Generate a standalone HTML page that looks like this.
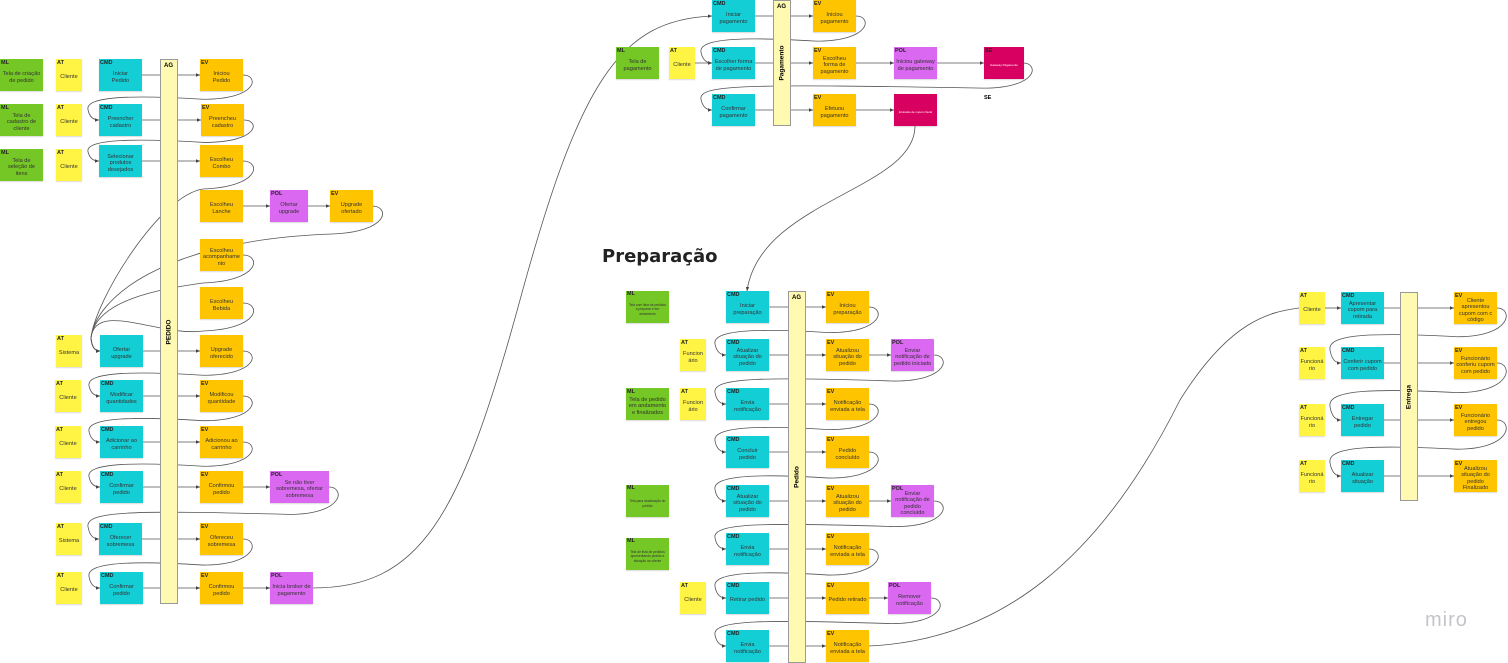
<!DOCTYPE html>
<html><head><meta charset="utf-8">
<style>
html,body{margin:0;padding:0;background:#fff;width:1508px;height:663px;overflow:hidden;position:relative;font-family:"Liberation Sans",sans-serif}
.b{position:absolute;width:43px;height:32px;box-sizing:border-box;font-size:5.6px;line-height:6.5px;color:#333;display:flex;align-items:center;justify-content:center;text-align:center;padding:7px 5px 2px 5px;box-shadow:0 1px 1px rgba(0,0,0,.15);word-break:break-word;overflow-wrap:anywhere}
.b i{position:absolute;left:1px;top:1px;font-style:normal;font-weight:bold;font-size:5.5px;color:#222}
.ml{background:#74c724}.at{background:#fff444;width:26px;padding-left:1px;padding-right:1px}.cmd{background:#14ced6}.ev{background:#ffc400}.pol{background:#da68f0}.se{background:#d80060;color:#fff;font-size:3px}
.ag{position:absolute;background:#fff9b1;border:1px solid #999;box-sizing:border-box;width:18px}
.ag i{position:absolute;left:3px;top:3px;font-style:normal;font-weight:bold;font-size:6px}
.ag span{position:absolute;left:50%;top:50%;transform:translate(-50%,-50%) rotate(-90deg);font-size:6.5px;font-weight:bold;white-space:nowrap}
.tiny{font-size:3.3px;line-height:4.2px;padding-left:2px;padding-right:2px}
svg{position:absolute;left:0;top:0}
</style></head><body>
<svg id="s" width="1508" height="663"><defs><marker id="a" markerWidth="6" markerHeight="6" refX="5" refY="3" orient="auto"><path d="M0,0.8 L5,3 L0,5.2z" fill="#444"/></marker></defs></svg>

<!-- Section 1 -->
<div class="ag" style="left:160px;top:59px;height:545px"><i>AG</i><span>PEDIDO</span></div>
<div class="b ml" style="left:0;top:59px;padding-left:2px;padding-right:2px"><i>ML</i>Tela de criação de pedido</div>
<div class="b ml" style="left:0;top:104px"><i>ML</i>Tela de cadastro de cliente</div>
<div class="b ml" style="left:0;top:149px"><i>ML</i>Tela de seleção de itens</div>
<div class="b at" style="left:56px;top:59px"><i>AT</i>Cliente</div>
<div class="b at" style="left:56px;top:104px"><i>AT</i>Cliente</div>
<div class="b at" style="left:56px;top:149px"><i>AT</i>Cliente</div>
<div class="b cmd" style="left:99px;top:59px"><i>CMD</i>Iniciar Pedido</div>
<div class="b cmd" style="left:99px;top:104px"><i>CMD</i>Preencher cadastro</div>
<div class="b cmd" style="left:99px;top:145px">Selecionar produtos desejados</div>
<div class="b ev" style="left:200px;top:59px"><i>EV</i>Iniciou Pedido</div>
<div class="b ev" style="left:201px;top:104px"><i>EV</i>Preencheu cadastro</div>
<div class="b ev" style="left:200px;top:145px">Escolheu Combo</div>
<div class="b ev" style="left:200px;top:190px">Escolheu Lanche</div>
<div class="b pol" style="left:270px;top:190px;width:38px"><i>POL</i>Ofertar upgrade</div>
<div class="b ev" style="left:330px;top:190px"><i>EV</i>Upgrade ofertado</div>
<div class="b ev" style="left:200px;top:239px;padding-left:2px;padding-right:2px">Escolheu acompanhamento</div>
<div class="b ev" style="left:200px;top:287px">Escolheu Bebida</div>
<div class="b at" style="left:56px;top:335px"><i>AT</i>Sistema</div>
<div class="b cmd" style="left:100px;top:335px">Ofertar upgrade</div>
<div class="b ev" style="left:200px;top:335px">Upgrade oferecido</div>
<div class="b at" style="left:55px;top:380px"><i>AT</i>Cliente</div>
<div class="b cmd" style="left:100px;top:380px;padding-left:2px;padding-right:2px"><i>CMD</i>Modificar quantidades</div>
<div class="b ev" style="left:200px;top:380px"><i>EV</i>Modificou quantidade</div>
<div class="b at" style="left:55px;top:426px"><i>AT</i>Cliente</div>
<div class="b cmd" style="left:100px;top:426px"><i>CMD</i>Adicionar ao carrinho</div>
<div class="b ev" style="left:200px;top:426px"><i>EV</i>Adicionou ao carrinho</div>
<div class="b at" style="left:55px;top:471px"><i>AT</i>Cliente</div>
<div class="b cmd" style="left:100px;top:471px"><i>CMD</i>Confirmar pedido</div>
<div class="b ev" style="left:200px;top:471px"><i>EV</i>Confirmou pedido</div>
<div class="b pol" style="left:270px;top:471px;width:59px"><i>POL</i>Se não tiver sobremesa, ofertar sobremesa</div>
<div class="b at" style="left:56px;top:523px"><i>AT</i>Sistema</div>
<div class="b cmd" style="left:99px;top:523px"><i>CMD</i>Oferecer sobremesa</div>
<div class="b ev" style="left:200px;top:523px"><i>EV</i>Ofereceu sobremesa</div>
<div class="b at" style="left:56px;top:572px"><i>AT</i>Cliente</div>
<div class="b cmd" style="left:100px;top:572px"><i>CMD</i>Confirmar pedido</div>
<div class="b ev" style="left:200px;top:572px"><i>EV</i>Confirmou pedido</div>
<div class="b pol" style="left:270px;top:572px;padding-left:2px;padding-right:2px"><i>POL</i>Inicia broker de pagamento</div>

<!-- Section 2 -->
<div class="ag" style="left:773px;top:0;height:126px"><i>AG</i><span>Pagamento</span></div>
<div class="b cmd" style="left:712px;top:0"><i>CMD</i>Iniciar pagamento</div>
<div class="b ev" style="left:813px;top:0"><i>EV</i>Iniciou pagamento</div>
<div class="b ml" style="left:616px;top:47px"><i>ML</i>Tela de pagamento</div>
<div class="b at" style="left:669px;top:47px"><i>AT</i>Cliente</div>
<div class="b cmd" style="left:712px;top:47px;padding-left:2px;padding-right:2px"><i>CMD</i>Escolher forma de pagamento</div>
<div class="b ev" style="left:813px;top:47px"><i>EV</i>Escolheu forma de pagamento</div>
<div class="b pol" style="left:894px;top:47px;padding-left:2px;padding-right:2px"><i>POL</i>Iniciou gateway de pagamento</div>
<div class="b se" style="left:984px;top:47px;width:40px"><i style="color:#222">SE</i>Gateway Pagamento</div>
<div class="b cmd" style="left:712px;top:94px"><i>CMD</i>Confirmar pagamento</div>
<div class="b ev" style="left:813px;top:94px"><i>EV</i>Efetuou pagamento</div>
<div class="b se" style="left:894px;top:94px;padding-left:1px;padding-right:1px">Emissão de cupom fiscal</div>
<div style="position:absolute;left:984px;top:95px;font-size:5.5px;font-weight:bold">SE</div>

<div style="position:absolute;left:602px;top:246px;font-size:18px;font-weight:bold;color:#222;font-family:'DejaVu Sans',sans-serif">Preparação</div>

<!-- Section 3 -->
<div class="ag" style="left:788px;top:291px;height:372px"><i>AG</i><span>Pedido</span></div>
<div class="b ml tiny" style="left:626px;top:291px"><i>ML</i>Tela com lista de pedidos a preparar e em andamento</div>
<div class="b cmd" style="left:726px;top:291px"><i>CMD</i>Iniciar preparação</div>
<div class="b ev" style="left:826px;top:291px"><i>EV</i>Iniciou preparação</div>
<div class="b at" style="left:680px;top:339px"><i>AT</i>Funcion ário</div>
<div class="b cmd" style="left:726px;top:339px"><i>CMD</i>Atualizar situação do pedido</div>
<div class="b ev" style="left:826px;top:339px"><i>EV</i>Atualizou situação do pedido</div>
<div class="b pol" style="left:891px;top:339px;padding-left:2px;padding-right:2px"><i>POL</i>Enviar notificação de pedido iniciado</div>
<div class="b ml" style="left:626px;top:388px;padding-left:2px;padding-right:2px"><i>ML</i>Tela de pedido em andamento e finalizados</div>
<div class="b at" style="left:680px;top:388px"><i>AT</i>Funcion ário</div>
<div class="b cmd" style="left:726px;top:388px"><i>CMD</i>Envia notificação</div>
<div class="b ev" style="left:826px;top:388px;padding-left:2px;padding-right:2px"><i>EV</i>Notificação enviada a tela</div>
<div class="b cmd" style="left:726px;top:436px"><i>CMD</i>Concluir pedido</div>
<div class="b ev" style="left:826px;top:436px"><i>EV</i>Pedido concluído</div>
<div class="b ml tiny" style="left:626px;top:485px"><i>ML</i>Tela para atualização do pedido</div>
<div class="b cmd" style="left:726px;top:485px"><i>CMD</i>Atualizar situação do pedido</div>
<div class="b ev" style="left:826px;top:485px"><i>EV</i>Atualizou situação do pedido</div>
<div class="b pol" style="left:891px;top:485px;padding-left:2px;padding-right:2px"><i>POL</i>Enviar notificação de pedido concluído</div>
<div class="b ml tiny" style="left:626px;top:538px"><i>ML</i>Tela de lista de pedidos apresentando pedido e situação ao cliente</div>
<div class="b cmd" style="left:726px;top:533px"><i>CMD</i>Envia notificação</div>
<div class="b ev" style="left:826px;top:533px;padding-left:2px;padding-right:2px"><i>EV</i>Notificação enviada a tela</div>
<div class="b at" style="left:680px;top:582px"><i>AT</i>Cliente</div>
<div class="b cmd" style="left:726px;top:582px;padding-left:2px;padding-right:2px"><i>CMD</i>Retirar pedido</div>
<div class="b ev" style="left:826px;top:582px;padding-left:2px;padding-right:2px"><i>EV</i>Pedido retirado</div>
<div class="b pol" style="left:888px;top:582px"><i>POL</i>Remover notificação</div>
<div class="b cmd" style="left:726px;top:630px"><i>CMD</i>Envia notificação</div>
<div class="b ev" style="left:826px;top:630px;padding-left:2px;padding-right:2px"><i>EV</i>Notificação enviada a tela</div>

<!-- Section 4 -->
<div class="ag" style="left:1400px;top:292px;height:209px"><span>Entrega</span></div>
<div class="b at" style="left:1299px;top:292px"><i>AT</i>Cliente</div>
<div class="b cmd" style="left:1341px;top:292px"><i>CMD</i>Apresentar cupom para retirada</div>
<div class="b ev" style="left:1454px;top:292px;padding-left:2px;padding-right:2px"><i>EV</i>Cliente apresentou cupom com c código</div>
<div class="b at" style="left:1299px;top:347px"><i>AT</i>Funcioná rio</div>
<div class="b cmd" style="left:1341px;top:347px;padding-left:2px;padding-right:2px"><i>CMD</i>Conferir cupom com pedido</div>
<div class="b ev" style="left:1454px;top:347px;padding-left:2px;padding-right:2px"><i>EV</i>Funcionário conferiu cupom com pedido</div>
<div class="b at" style="left:1299px;top:404px"><i>AT</i>Funcioná rio</div>
<div class="b cmd" style="left:1341px;top:404px"><i>CMD</i>Entregar pedido</div>
<div class="b ev" style="left:1454px;top:404px"><i>EV</i>Funcionário entregou pedido</div>
<div class="b at" style="left:1299px;top:460px"><i>AT</i>Funcioná rio</div>
<div class="b cmd" style="left:1341px;top:460px"><i>CMD</i>Atualizar situação</div>
<div class="b ev" style="left:1454px;top:460px"><i>EV</i>Atualizou situação do pedido Finalizado</div>

<div style="position:absolute;left:1425px;top:609px;font-size:20px;color:#c4c4cc;letter-spacing:1px">miro</div>

<script>
var s=document.getElementById('s'),P=[];
function p(d,arrow){P.push('<path d="'+d+'" fill="none" stroke="#555" stroke-width="0.8"'+(arrow?' marker-end="url(#a)"':'')+'/>');}
function ln(x1,y,x2){p('M'+x1+' '+y+' L'+x2+' '+y,1);}
function loop(ex,ey,cx,cy){var m=ey+(cy-ey)*0.45+4;
 p('M'+ex+' '+ey+' C'+(ex+16)+' '+ey+','+(ex+16)+' '+m+','+(ex-40)+' '+m+' C'+(cx+40)+' '+(m-4)+','+(cx-14)+' '+(m-4)+','+(cx-11)+' '+((m+cy)/2)+' Q'+(cx-9)+' '+cy+','+cx+' '+cy,1);}
[[142,75,200],[142,120,201],[142,161,200],[143,351,200],[143,396,200],[143,442,200],[143,487,200],[142,539,200],[143,588,200],[243,206,270],[308,206,330],[243,487,270],[243,588,270]].forEach(function(a){ln(a[0],a[1],a[2]);});
loop(243,75,99,120);loop(244,120,99,161);loop(243,351,100,396);loop(243,396,100,442);loop(243,442,100,487);loop(329,487,99,539);loop(243,539,100,588);
[[243,161],[372,206],[243,255],[243,303]].forEach(function(a){var ex=a[0],ey=a[1];
 p('M'+ex+' '+ey+' C'+(ex+18)+' '+ey+','+(ex+18)+' '+(ey+26)+','+(ex-40)+' '+(ey+28)+' C160 '+(ey+34)+',95 300,91 338 Q92 351,100 351',1);});
p('M312 588 C420 588,460 520,520 300 C580 80,620 20,712 16',1);
[[754,16,813],[754,63,813],[856,63,894],[937,63,984],[754,110,813],[856,110,894],[695,63,712]].forEach(function(a){ln(a[0],a[1],a[2]);});
loop(856,16,712,63);loop(1023,63,712,110);
p('M915 126 C915 190,760 200,747 291',1);
for(var y of [307,355,404,452,501,549,598,646])ln(769,y,826);
ln(869,355,891);ln(869,501,891);ln(869,598,888);
loop(869,307,726,355);loop(934,355,726,404);loop(869,404,726,452);loop(869,452,726,501);loop(934,501,726,549);loop(869,549,726,598);loop(931,598,726,646);
p('M869 646 C1000 640,1100 560,1180 400 C1230 320,1270 312,1299 308',0);
ln(1325,308,1341);
for(var y of [308,363,420,476])ln(1384,y,1454);
loop(1497,308,1341,363);loop(1497,363,1341,420);loop(1497,420,1341,476);
s.insertAdjacentHTML('beforeend',P.join(''));
</script>
</body></html>
